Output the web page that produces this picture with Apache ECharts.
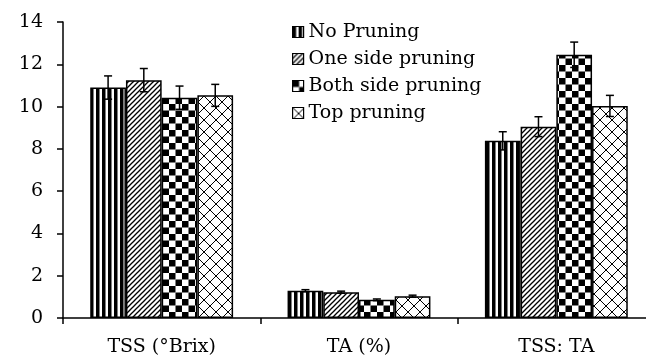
<!DOCTYPE html>
<html>
<head>
<meta charset="utf-8">
<script src="https://cdn.jsdelivr.net/npm/echarts@6/dist/echarts.min.js"></script>
<style>html,body{margin:0;padding:0;background:#fff}#c{width:646px;height:360px}</style>
</head>
<body>
<div id="c"></div>
<script>
const categories = ['TSS (°Brix)', 'TA (%)', 'TSS: TA'];
const seriesNames = ['No Pruning', 'One side pruning', 'Both side pruning', 'Top pruning'];
const noPruning = [10.9, 1.29, 8.38];
const oneSide = [11.25, 1.22, 9.05];
const bothSide = [10.42, 0.86, 12.45];
const topPruning = [10.53, 1.03, 10.03];
const errNoPruning = [0.55, 0.05, 0.43];
const errOneSide = [0.55, 0.05, 0.47];
const errBothSide = [0.55, 0.04, 0.6];
const errTopPruning = [0.52, 0.05, 0.5];
const yTicks = [0, 2, 4, 6, 8, 10, 12, 14];

function mk(w, h, draw) {
  const c = document.createElement('canvas');
  c.width = w; c.height = h;
  const g = c.getContext('2d');
  g.fillStyle = '#fff'; g.fillRect(0, 0, w, h);
  g.fillStyle = '#000'; g.strokeStyle = '#000';
  draw(g, w, h);
  return { image: c, repeat: 'repeat' };
}
const pVert = mk(6, 6, (g) => { g.fillRect(0, 0, 3.5, 6); });
const pDiag = mk(5, 5, (g, w) => {
  g.lineWidth = 1.3;
  for (let o = -w; o <= w; o += w) {
    g.beginPath(); g.moveTo(o - 1, w + 1); g.lineTo(o + w + 1, -1); g.stroke();
  }
});
const pCheck = mk(13, 13, (g) => { g.fillRect(0, 0, 6.5, 6.5); g.fillRect(6.5, 6.5, 6.5, 6.5); });
const pLattice = mk(12, 12, (g, w) => {
  g.lineWidth = 1;
  for (let o = -w; o <= w; o += w) {
    g.beginPath(); g.moveTo(o - 1, w + 1); g.lineTo(o + w + 1, -1); g.stroke();
    g.beginPath(); g.moveTo(o - 1, -1); g.lineTo(o + w + 1, w + 1); g.stroke();
  }
});
const patterns = [pVert, pDiag, pCheck, pLattice];
const values = [noPruning, oneSide, bothSide, topPruning];
const errors = [errNoPruning, errOneSide, errBothSide, errTopPruning];
const CAT_GAP = 0.276;
const FONT = 'DejaVu Serif';

const barSeries = seriesNames.map((n, i) => ({
  name: n, type: 'bar', data: values[i], barGap: '0%', barCategoryGap: (CAT_GAP * 100) + '%',
  itemStyle: { color: patterns[i], borderColor: '#000', borderWidth: 1.5 },
  emphasis: { disabled: true }
}));

const errData = [];
values.forEach((arr, si) => arr.forEach((v, ci) => errData.push([ci, v, errors[si][ci], si])));

const errSeries = {
  type: 'custom', z: 10, data: errData, encode: { x: 0, y: 1 },
  renderItem: function (params, api) {
    const ci = api.value(0), v = api.value(1), e = api.value(2), si = api.value(3);
    const catW = api.size([1, 0])[0];
    const bw = catW * (1 - CAT_GAP) / 4;
    const cx = api.coord([ci, 0])[0] + (si - 1.5) * bw;
    const yt = api.coord([ci, v + e])[1], yb = api.coord([ci, v - e])[1];
    const st = { stroke: '#000', lineWidth: 1.5 };
    const cap = 4;
    return { type: 'group', children: [
      { type: 'line', shape: { x1: cx, y1: yt, x2: cx, y2: yb }, style: st },
      { type: 'line', shape: { x1: cx - cap, y1: yt, x2: cx + cap, y2: yt }, style: st },
      { type: 'line', shape: { x1: cx - cap, y1: yb, x2: cx + cap, y2: yb }, style: st }
    ] };
  }
};

const chart = echarts.init(document.getElementById('c'), null, { renderer: 'canvas' });
chart.setOption({
  backgroundColor: '#fff',
  animation: false,
  textStyle: { fontFamily: FONT },
  grid: { left: 63, right: -9, top: 22, bottom: 42, containLabel: false, outerBoundsMode: 'none' },
  legend: {
    data: seriesNames, orient: 'vertical', left: 287, top: 16,
    itemWidth: 11, itemHeight: 11, itemGap: 5, icon: 'rect',
    itemStyle: { borderColor: '#000', borderWidth: 1.2 },
    textStyle: { fontFamily: FONT, fontSize: 19, color: '#000', lineHeight: 22 }
  },
  xAxis: {
    type: 'category', data: categories,
    axisLine: { lineStyle: { color: '#000', width: 1.5 } },
    axisTick: { show: true, length: 6, lineStyle: { color: '#000', width: 1.5 } },
    axisLabel: { color: '#000', fontFamily: FONT, fontSize: 19, margin: 20 }
  },
  yAxis: {
    type: 'value', min: yTicks[0], max: yTicks[yTicks.length - 1], interval: 2,
    axisLine: { show: true, lineStyle: { color: '#000', width: 1.5 } },
    axisTick: { show: true, length: 6, lineStyle: { color: '#000', width: 1.5 } },
    splitLine: { show: false },
    axisLabel: { color: '#000', fontFamily: FONT, fontSize: 19, margin: 20 }
  },
  series: barSeries.concat([errSeries])
});
</script>
</body>
</html>
